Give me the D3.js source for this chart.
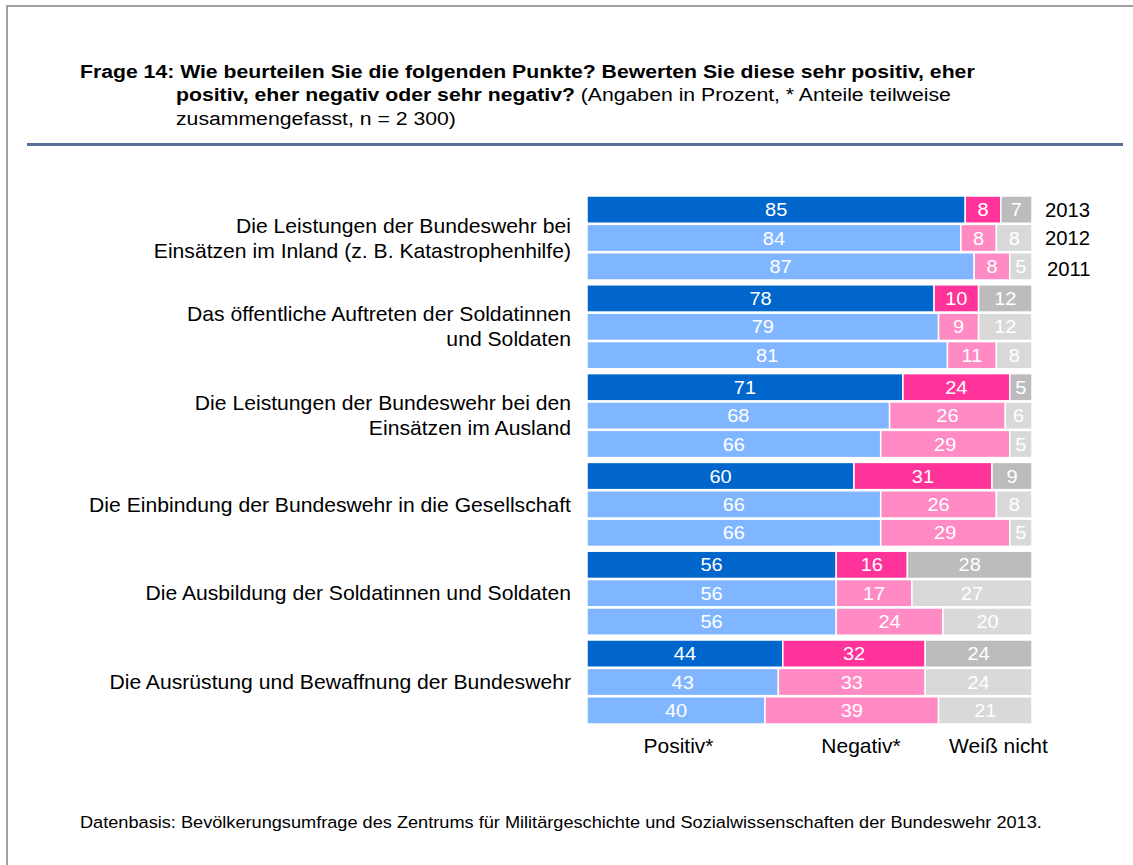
<!DOCTYPE html>
<html>
<head>
<meta charset="utf-8">
<script src="https://cdn.jsdelivr.net/npm/d3@7"></script>
<style>
  html, body { margin: 0; padding: 0; background: #fff; }
  svg { display: block; font-family: "Liberation Sans", Arial, sans-serif; }
</style>
</head>
<body>
<svg id="chart" width="1133" height="865"></svg>
<script>
const categories = [
  ["Die Leistungen der Bundeswehr bei", "Einsätzen im Inland (z. B. Katastrophenhilfe)"],
  ["Das öffentliche Auftreten der Soldatinnen", "und Soldaten"],
  ["Die Leistungen der Bundeswehr bei den", "Einsätzen im Ausland"],
  ["Die Einbindung der Bundeswehr in die Gesellschaft"],
  ["Die Ausbildung der Soldatinnen und Soldaten"],
  ["Die Ausrüstung und Bewaffnung der Bundeswehr"]
];
const years = ["2013", "2012", "2011"];
const seriesNames = ["Positiv*", "Negativ*", "Weiß nicht"];
// values per category: [2013, 2012, 2011]
const positiv = [
  [85, 84, 87],
  [78, 79, 81],
  [71, 68, 66],
  [60, 66, 66],
  [56, 56, 56],
  [44, 43, 40]
];
const negativ = [
  [8, 8, 8],
  [10, 9, 11],
  [24, 26, 29],
  [31, 26, 29],
  [16, 17, 24],
  [32, 33, 39]
];
const weissNicht = [
  [7, 8, 5],
  [12, 12, 8],
  [5, 6, 5],
  [9, 8, 5],
  [28, 27, 20],
  [24, 24, 21]
];
const title1 = "Frage 14: Wie beurteilen Sie die folgenden Punkte? Bewerten Sie diese sehr positiv, eher";
const title2Bold = "positiv, eher negativ oder sehr negativ?";
const title2Rest = " (Angaben in Prozent, * Anteile teilweise";
const title3 = "zusammengefasst, n = 2 300)";
const footnote = "Datenbasis: Bevölkerungsumfrage des Zentrums für Militärgeschichte und Sozialwissenschaften der Bundeswehr 2013.";

const colorsCurrent = ["#0066cc", "#ff3399", "#bcbcbc"];
const colorsPrev = ["#80b6ff", "#ff8ac4", "#d9d9d9"];

const svg = d3.select("#chart");

// helper: text in a horizontally stretched group
function stext(x, y, opts) {
  const g = svg.append("g").attr("transform", `translate(${x},${y})`);
  const t = g.append("text").attr("x", 0).attr("y", 0)
    .attr("font-size", opts.size).attr("fill", opts.fill || "#000")
    .attr("text-anchor", opts.anchor || "start");
  if (opts.weight) t.attr("font-weight", opts.weight);
  if (opts.dy) t.attr("dy", opts.dy);
  if (opts.text !== undefined) t.text(opts.text);
  return { g, t };
}
function applyScale(g, sx) {
  g.attr("transform", g.attr("transform") + ` scale(${sx},1)`);
}

// Frame
svg.append("path")
  .attr("d", "M7,870 L7,6 L1140,6")
  .attr("fill", "none")
  .attr("stroke", "#a0a0a0")
  .attr("stroke-width", 2);

// Title
const T1 = stext(80, 77.5, { size: 19, weight: "bold", text: title1 });
const titleSx = 895 / T1.t.node().getComputedTextLength();
applyScale(T1.g, titleSx);
const T2 = stext(176, 101, { size: 19 });
T2.t.append("tspan").attr("font-weight", "bold").text(title2Bold);
T2.t.append("tspan").text(title2Rest);
applyScale(T2.g, titleSx);
const T3 = stext(176, 124.5, { size: 19, text: title3 });
applyScale(T3.g, titleSx);

// Rule
svg.append("rect").attr("x", 27).attr("y", 143).attr("width", 1096).attr("height", 3)
  .attr("fill", "#5b6e98");

// Scales
const x = d3.scaleLinear().domain([0, 100]).range([587, 1032]);
const yGroup = d3.scaleBand().domain(d3.range(categories.length))
  .range([196, 724]).paddingInner(0.054).paddingOuter(0);
const yRow = d3.scaleBand().domain(years).range([0, yGroup.bandwidth()])
  .paddingInner(0.04);

const data = [];
categories.forEach((c, gi) => {
  years.forEach((yr, yi) => {
    const vals = [positiv[gi][yi], negativ[gi][yi], weissNicht[gi][yi]];
    let cum = 0;
    vals.forEach((v, si) => {
      data.push({ gi, yi, yr, si, v, x0: cum, x1: cum + v });
      cum += v;
    });
  });
});

svg.append("g").selectAll("rect.seg").data(data).join("rect")
  .attr("class", "seg")
  .attr("x", d => x(d.x0))
  .attr("y", d => yGroup(d.gi) + yRow(d.yr))
  .attr("width", d => x(d.x1) - x(d.x0))
  .attr("height", yRow.bandwidth())
  .attr("fill", d => (d.yi === 0 ? colorsCurrent : colorsPrev)[d.si])
  .attr("stroke", "#fff")
  .attr("stroke-width", 1.5);

// value labels
data.forEach(d => {
  const L = stext((x(d.x0) + x(d.x1)) / 2, yGroup(d.gi) + yRow(d.yr) + yRow.bandwidth() / 2,
    { size: 18.5, anchor: "middle", dy: "0.36em", fill: "#fff", text: d.v });
  applyScale(L.g, 1.08);
});

// Category labels
let catSx = null;
{
  const probe = svg.append("text").attr("font-size", 20).text(categories[3][0]);
  catSx = 482 / probe.node().getComputedTextLength();
  probe.remove();
}
categories.forEach((lines, gi) => {
  const cy = yGroup(gi) + yGroup.bandwidth() / 2;
  const lh = 25;
  const C = stext(571, 0, { size: 20, anchor: "end" });
  lines.forEach((ln, li) => {
    C.t.append("tspan")
      .attr("x", 0)
      .attr("y", cy + (li - (lines.length - 1) / 2) * lh)
      .attr("dy", "0.36em")
      .text(ln);
  });
  applyScale(C.g, catSx);
});

// Year labels (first group)
years.forEach((yr, yi) => {
  const Y = stext(1045 + (yi === 2 ? 2 : 0),
    yGroup(0) + yRow(yr) + yRow.bandwidth() / 2 + (yi === 2 ? 3 : 0),
    { size: 19.5, dy: "0.36em", text: yr });
  applyScale(Y.g, 1.04);
});

// Legend labels below
const legendX = [678.5, 861, 998.5];
seriesNames.forEach((s, i) => {
  const Lg = stext(legendX[i], 746, { size: 20, anchor: "middle", dy: "0.36em", text: s });
  applyScale(Lg.g, 1.05);
});

// Footnote
const F = stext(80, 828, { size: 17, text: footnote });
applyScale(F.g, 963 / F.t.node().getComputedTextLength());
</script>
</body>
</html>
